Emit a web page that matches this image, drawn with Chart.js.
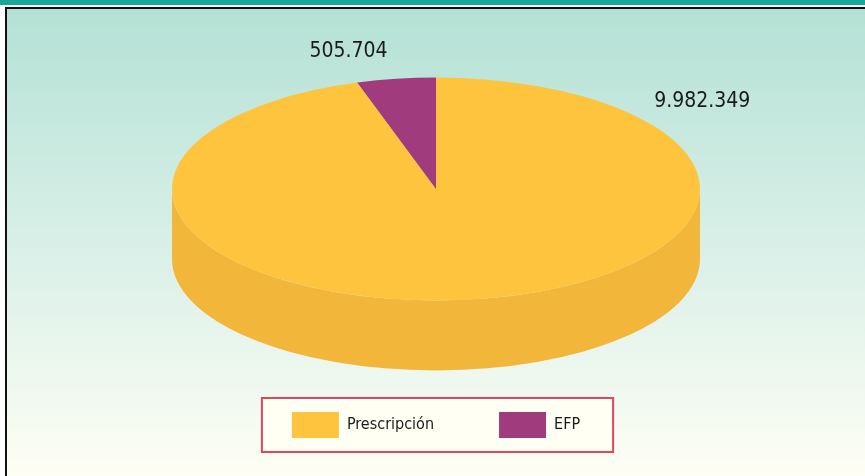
<!DOCTYPE html>
<html>
<head>
<meta charset="utf-8">
<script src="https://cdn.jsdelivr.net/npm/chart.js@4.4.1/dist/chart.umd.min.js"></script>
<style>
  html, body { margin: 0; padding: 0; background: #fff; }
  #wrap { width: 865px; height: 476px; position: relative; }
</style>
</head>
<body>
<div id="wrap"><canvas id="pie"></canvas></div>
<script>
// Data
const categories = ['Prescripción', 'EFP'];
const values = [9982349, 505704];
const sliceColors = ['#ffc43e', '#a03c7e'];
const sideColors = ['#f2b63a', '#87306a'];

const TILT = 111.5 / 264;   // ellipse squash
const DEPTH = 70;           // thickness of the pie
const FONT = '"DejaVu Sans Condensed", "Liberation Sans", sans-serif';

// 9982349 -> "9.982.349"
function fmt(v) {
    return String(v).replace(/\B(?=(\d{3})+(?!\d))/g, '.');
}

function pieFrame(chart) {
    const arc = chart.getDatasetMeta(0).data[0];
    const area = chart.chartArea;
    return {
        cx: arc.x,
        cy: (area.top + area.bottom) / 2 - DEPTH / 2,
        ay: arc.y,
        rx: arc.outerRadius,
        ry: arc.outerRadius * TILT
    };
}

// --- background, frame and top strip ---
const backdrop = {
    id: 'backdrop',
    beforeDraw(chart) {
        const { ctx, width, height } = chart;
        ctx.save();
        ctx.fillStyle = '#ffffff';
        ctx.fillRect(0, 0, width, height);
        ctx.fillStyle = '#17a898';
        ctx.fillRect(0, 0, width, 5);
        const g = ctx.createLinearGradient(0, 9, 0, height);
        g.addColorStop(0, '#b4e1d5');
        g.addColorStop(0.55, '#dcf1e9');
        g.addColorStop(1, '#fefef4');
        ctx.fillStyle = g;
        ctx.fillRect(7, 9, width - 7, height - 9);
        ctx.fillStyle = '#111';
        ctx.fillRect(5, 7, width - 5, 2);
        ctx.fillRect(5, 7, 2, height - 7);
        ctx.restore();
    }
};

// --- 3D look: draw the side walls, then squash the pie into an ellipse ---
const tilt3d = {
    id: 'tilt3d',
    beforeDatasetsDraw(chart) {
        const ctx = chart.ctx;
        const f = pieFrame(chart);
        const meta = chart.getDatasetMeta(0);
        meta.data.forEach((arc, i) => {
            const { startAngle, endAngle } = arc.getProps(['startAngle', 'endAngle'], true);
            for (let k = -1; k <= 1; k++) {
                const a = Math.max(startAngle, k * 2 * Math.PI);
                const b = Math.min(endAngle, k * 2 * Math.PI + Math.PI);
                if (b <= a) continue;
                ctx.beginPath();
                ctx.ellipse(f.cx, f.cy, f.rx, f.ry, 0, a, b);
                ctx.ellipse(f.cx, f.cy + DEPTH, f.rx, f.ry, 0, b, a, true);
                ctx.closePath();
                ctx.fillStyle = sideColors[i];
                ctx.fill();
            }
        });
        ctx.save();
        ctx.translate(f.cx, f.cy);
        ctx.scale(1, TILT);
        ctx.translate(-f.cx, -f.ay);
    },
    afterDatasetsDraw(chart) {
        chart.ctx.restore();
    }
};

// --- value labels and legend frame ---
const extras = {
    id: 'extras',
    afterDraw(chart, args, opts) {
        const ctx = chart.ctx;
        const f = pieFrame(chart);
        ctx.save();
        ctx.font = '21px ' + FONT;
        ctx.fillStyle = '#1a1a1a';
        ctx.textAlign = 'center';
        ctx.textBaseline = 'middle';
        values.forEach((v, i) => {
            const t = opts.labelAngles[i] * Math.PI / 180;
            const x = f.cx + f.rx * opts.labelReach * Math.cos(t);
            const y = f.cy + f.ry * opts.labelReach * Math.sin(t);
            ctx.fillText(fmt(v), x, y);
        });

        const boxes = chart.legend.legendHitBoxes;
        if (boxes && boxes.length) {
            const first = boxes[0], last = boxes[boxes.length - 1];
            const left = first.left - 30;
            const right = last.left + last.width + 33;
            const mid = first.top + first.height / 2;
            ctx.strokeStyle = '#e0465e';
            ctx.lineWidth = 2;
            ctx.strokeRect(left, mid - 27, right - left, 54);
        }
        ctx.restore();
    }
};

// legend background sits under the legend items
const legendFill = {
    id: 'legendFill',
    beforeDraw(chart) {
        const boxes = chart.legend && chart.legend.legendHitBoxes;
        if (!boxes || !boxes.length) return;
        const ctx = chart.ctx;
        const first = boxes[0], last = boxes[boxes.length - 1];
        const left = first.left - 30;
        const right = last.left + last.width + 33;
        const mid = first.top + first.height / 2;
        ctx.save();
        ctx.fillStyle = '#fffff4';
        ctx.fillRect(left, mid - 27, right - left, 54);
        ctx.restore();
    }
};

new Chart(document.getElementById('pie'), {
    type: 'pie',
    data: {
        labels: categories,
        datasets: [{
            data: values,
            backgroundColor: sliceColors,
            borderWidth: 0,
            clip: false
        }]
    },
    options: {
        responsive: true,
        maintainAspectRatio: false,
        animation: false,
        events: [],
        radius: 264,
        layout: { padding: { left: 7, right: 0, top: 101, bottom: 28 } },
        plugins: {
            tooltip: { enabled: false },
            legend: {
                position: 'bottom',
                labels: {
                    boxWidth: 47,
                    boxHeight: 26,
                    padding: 65,
                    color: '#1a1a1a',
                    font: { family: FONT, size: 16 }
                }
            },
            extras: { labelAngles: [-38, -105], labelReach: 1.28 }
        }
    },
    plugins: [backdrop, legendFill, tilt3d, extras]
});
</script>
</body>
</html>
